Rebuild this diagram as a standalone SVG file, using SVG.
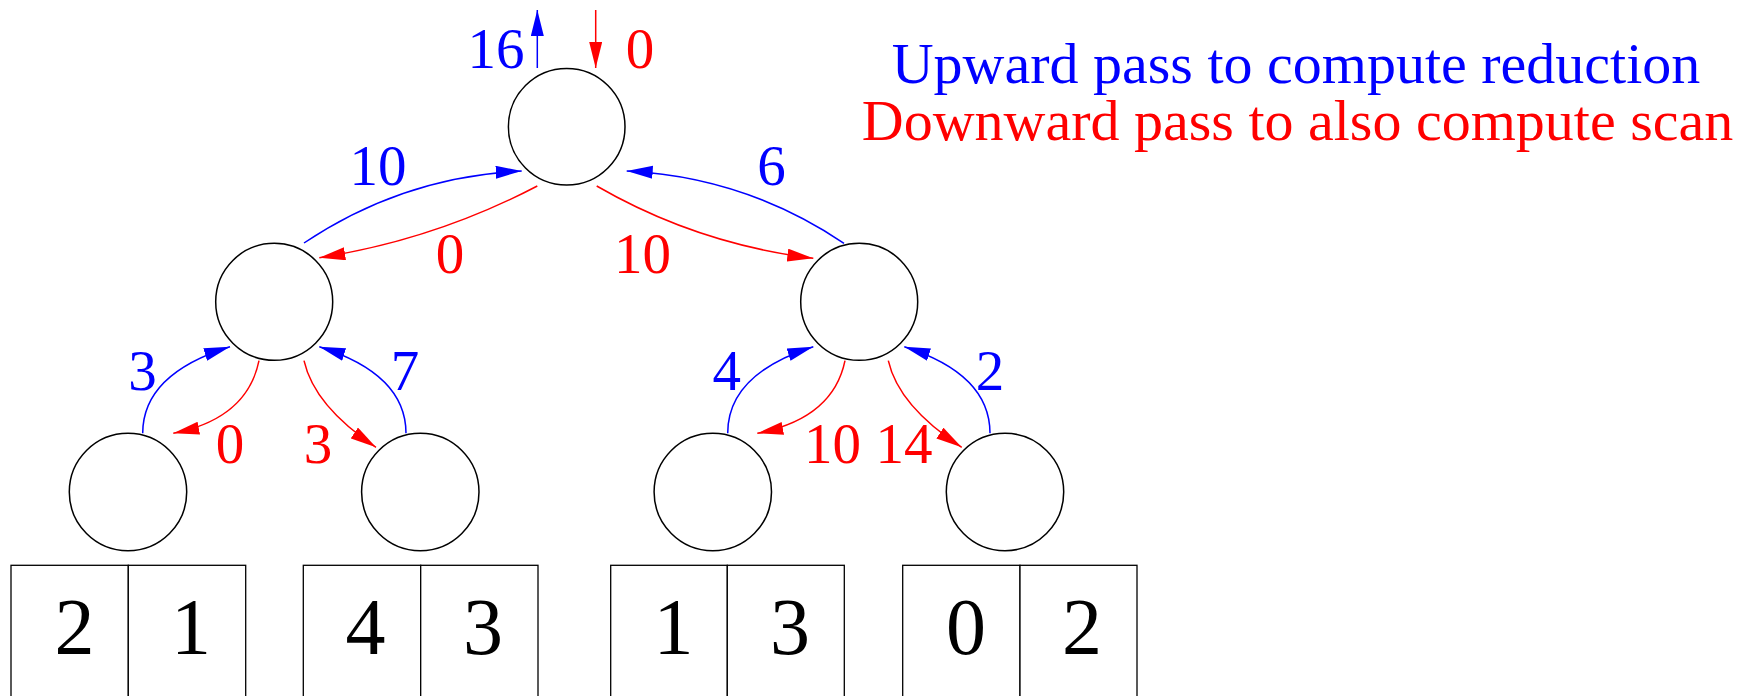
<svg xmlns="http://www.w3.org/2000/svg" width="1758" height="696" viewBox="0 0 1758 696">
<style>
.node{fill:#fff;stroke:#000;stroke-width:1.5}
.cell{fill:#fff;stroke:#000;stroke-width:1.3}
.up{fill:none;stroke:#0000ff;stroke-width:1.5;marker-end:url(#ab)}
.dn{fill:none;stroke:#ff0000;stroke-width:1.5;marker-end:url(#ar)}
text{font-family:"Liberation Serif","Times New Roman",serif;text-anchor:middle}
.lb{font-size:57px;fill:#0000ff}
.lr{font-size:57px;fill:#ff0000}
.d{font-size:80px;fill:#000}
.leg{font-size:58px}
</style>
<defs>
<marker id="ab" markerUnits="userSpaceOnUse" markerWidth="28" markerHeight="14" refX="26" refY="6.5" orient="auto"><path d="M0,0 L26,6.5 L0,13 z" fill="#0000ff"/></marker>
<marker id="ar" markerUnits="userSpaceOnUse" markerWidth="28" markerHeight="14" refX="26" refY="6.5" orient="auto"><path d="M0,0 L26,6.5 L0,13 z" fill="#ff0000"/></marker>
</defs>
<rect width="1758" height="696" fill="#fff"/>
<g id="connectors">
<path class="up" d="M537.3,68 L537.3,10"/>
<path class="dn" d="M595.7,10 L595.7,68"/>
<path class="up" d="M304,243 Q403,176.6 521.7,171"/>
<path class="dn" d="M537.3,186 Q434,240 319.3,257.7"/>
<path class="up" d="M844,243.3 Q745.3,176.8 626.7,171"/>
<path class="dn" d="M596.7,186 Q697,244 813.3,258.3"/>
<path class="up" d="M142.7,433.3 Q142.7,374 230,346.7"/>
<path class="dn" d="M259,360.7 Q247,418.7 173.3,433.3"/>
<path class="dn" d="M304,360.7 Q314.3,406.3 376,447.3"/>
<path class="up" d="M406,433.3 Q406,374 319.3,346.7"/>
<path class="up" d="M727.7,433.3 Q727.7,374 813.3,346.7"/>
<path class="dn" d="M845,360.7 Q833,418.7 757.3,433.3"/>
<path class="dn" d="M888.3,360.7 Q898.6,406.3 961.7,447.3"/>
<path class="up" d="M990,433.3 Q990,374 904.3,346.7"/>
</g>
<g id="edge-labels">
<text class="lb" x="496" y="68">16</text>
<text class="lr" x="640" y="68">0</text>
<text class="lb" x="378" y="185">10</text>
<text class="lr" x="450" y="273">0</text>
<text class="lb" x="771.5" y="185">6</text>
<text class="lr" x="642.5" y="273">10</text>
<text class="lb" x="142.5" y="390">3</text>
<text class="lb" x="405" y="390">7</text>
<text class="lr" x="230" y="463">0</text>
<text class="lr" x="318" y="463">3</text>
<text class="lb" x="726.7" y="390">4</text>
<text class="lb" x="990" y="390">2</text>
<text class="lr" x="832.5" y="463">10</text>
<text class="lr" x="904" y="463">14</text>
</g>
<g id="root"><circle class="node" cx="566.7" cy="126.7" r="58.3"/></g>
<g id="mid-left"><circle class="node" cx="274.2" cy="301.8" r="58.5"/></g>
<g id="mid-right"><circle class="node" cx="859.2" cy="301.8" r="58.5"/></g>
<g id="leaf-1"><circle class="node" cx="128" cy="492" r="58.7"/></g>
<g id="leaf-2"><circle class="node" cx="420.3" cy="492" r="58.7"/></g>
<g id="leaf-3"><circle class="node" cx="712.8" cy="492" r="58.7"/></g>
<g id="leaf-4"><circle class="node" cx="1005" cy="492" r="58.7"/></g>
<g id="box-1">
<rect class="cell" x="11" y="565.3" width="117.3" height="140"/>
<rect class="cell" x="128.3" y="565.3" width="117.4" height="140"/>
<text class="d" x="74.5" y="654">2</text><text class="d" x="191" y="654">1</text>
</g>
<g id="box-2">
<rect class="cell" x="303.3" y="565.3" width="117.4" height="140"/>
<rect class="cell" x="420.7" y="565.3" width="117.3" height="140"/>
<text class="d" x="365.5" y="654">4</text><text class="d" x="483" y="654">3</text>
</g>
<g id="box-3">
<rect class="cell" x="610.7" y="565.3" width="116.6" height="140"/>
<rect class="cell" x="727.3" y="565.3" width="117" height="140"/>
<text class="d" x="673.5" y="654">1</text><text class="d" x="790" y="654">3</text>
</g>
<g id="box-4">
<rect class="cell" x="902.7" y="565.3" width="117.3" height="140"/>
<rect class="cell" x="1020" y="565.3" width="117" height="140"/>
<text class="d" x="966" y="654">0</text><text class="d" x="1082" y="654">2</text>
</g>
<g id="legend">
<text class="leg" x="1296" y="83" fill="#0000ff">Upward pass to compute reduction</text>
<text class="leg" x="1297.5" y="140" fill="#ff0000">Downward pass to also compute scan</text>
</g>
</svg>
